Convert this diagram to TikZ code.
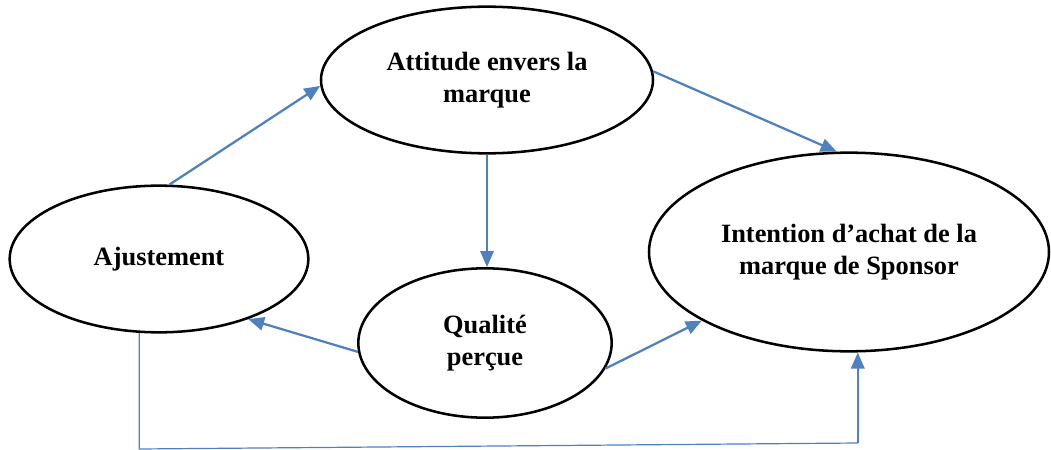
\documentclass[tikz,border=0pt]{standalone}
\usepackage{fontspec}
\setmainfont{Liberation Serif}
\usetikzlibrary{shapes.geometric,arrows.meta}
\definecolor{linkblue}{HTML}{4F81BD}
\begin{document}
\begin{tikzpicture}[x=0.75pt,y=-0.75pt,
  concept/.style={ellipse,draw=black,line width=1.9pt,inner sep=0pt,
    align=center,font=\fontsize{19.8}{23.5}\selectfont\bfseries},
  link/.style={draw=linkblue,line width=1.7pt,
    -{Triangle[length=12pt,width=10pt]}},
  thinlink/.style={draw=linkblue,line width=0.9pt}]
\useasboundingbox (0,0) rectangle (1051,450);

% the four constructs
\node[concept,minimum width=249pt,minimum height=110pt] (att) at (487,80) {Attitude envers la\\marque};
\node[concept,minimum width=224pt,minimum height=110pt] (aj) at (159,259) {Ajustement};
\node[concept,minimum width=190pt,minimum height=112pt] (qual) at (485,343) {Qualité\\perçue};
\node[concept,minimum width=300pt,minimum height=149pt] (int) at (849,252) {Intention d’achat de la\\marque de Sponsor};

% direct effects
\draw[link] (aj.82) -- (att.182);
\draw[link] (att.3) -- (int.97);
\draw[link] (att.south) -- (att.south |- qual.north);
\draw[link] (qual.184) -- (aj.326);
\draw[link] (qual.348) -- (int.205);

% effect of fit on purchase intention, routed under the diagram
\coordinate (bl) at (0,449);
\coordinate (br) at (0,443);
\draw[thinlink] (aj.255) -- (aj.255 |- bl) -- (int.275 |- br);
\draw[link] (int.275 |- br) -- (int.275);
\end{tikzpicture}
\end{document}
